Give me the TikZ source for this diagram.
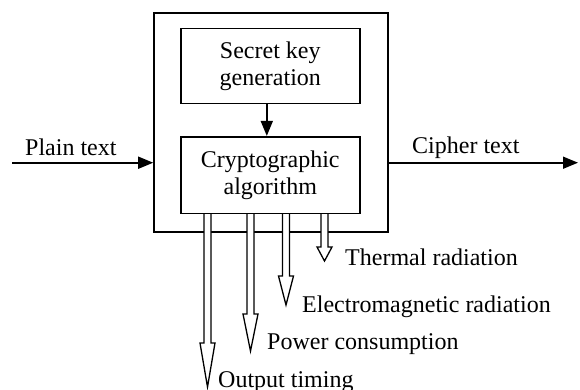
\documentclass[tikz,border=0pt]{standalone}
\usepackage{fontspec}
\setmainfont{Liberation Serif}
\usetikzlibrary{arrows.meta,calc}

\tikzset{
  box/.style={draw, line width=1.6pt, minimum width=179pt, align=center, inner sep=0pt},
  flow/.style={line width=1.6pt, -{Triangle[length=15pt,width=12pt]}},
  leak/.style={line width=1.3pt, fill=white},
  lbl/.style={anchor=base west, inner sep=0pt},
}

\begin{document}
\begin{tikzpicture}[x=1pt,y=-1pt,font=\fontsize{24}{27}\selectfont]
  \useasboundingbox (0,0) rectangle (580,389);

  % 外框
  \node[draw, line width=1.6pt, minimum width=234pt, minimum height=219pt, inner sep=0pt] (device) at (271,122.5) {};

  % 内部两个方框
  \node[box, minimum height=75pt] (keygen) at (270.3,65.8) {Secret key\\generation};
  \node[box, minimum height=76.6pt] (crypto) at (270.3,175) {Cryptographic\\algorithm};
  \draw[flow] ([xshift=-3.5pt]keygen.south) -- ([xshift=-3.5pt]crypto.north);

  % 明文和密文
  \coordinate (plainin) at (12,162.7);
  \coordinate (cipherout) at (578,162.7);
  \draw[flow] (plainin) -- (plainin -| device.west);
  \draw[flow] (cipherout -| device.east) -- (cipherout);
  \node[lbl] (plain) at (25,155.5) {Plain text};
  \node[lbl] (cipher) at (412,153) {Cipher text};

  % 泄漏的空心箭头
  \coordinate (timing) at (207.5,387);
  \coordinate (power) at (250.5,351);
  \coordinate (emr) at (286,305);
  \coordinate (thermal) at (324.5,261);
  \foreach \tip/\len in {timing/44pt, power/37pt, emr/29pt, thermal/14pt} {
    \draw[leak] ($(crypto.south -| \tip)+(-3.5pt,0)$) -- ($(\tip)+(-3.5pt,\len)$)
      -- ($(\tip)+(-7.5pt,\len)$) -- (\tip) -- ($(\tip)+(7.5pt,\len)$)
      -- ($(\tip)+(3.5pt,\len)$) -- ($(crypto.south -| \tip)+(3.5pt,0)$);
  }

  % 标注
  \node[lbl] (thermallbl) at (345,265) {Thermal radiation};
  \node[lbl] (emrlbl) at (302,312) {Electromagnetic radiation};
  \node[lbl] (powerlbl) at (267,349) {Power consumption};
  \node[lbl] (timinglbl) at (218,387) {Output timing};

\end{tikzpicture}
\end{document}
